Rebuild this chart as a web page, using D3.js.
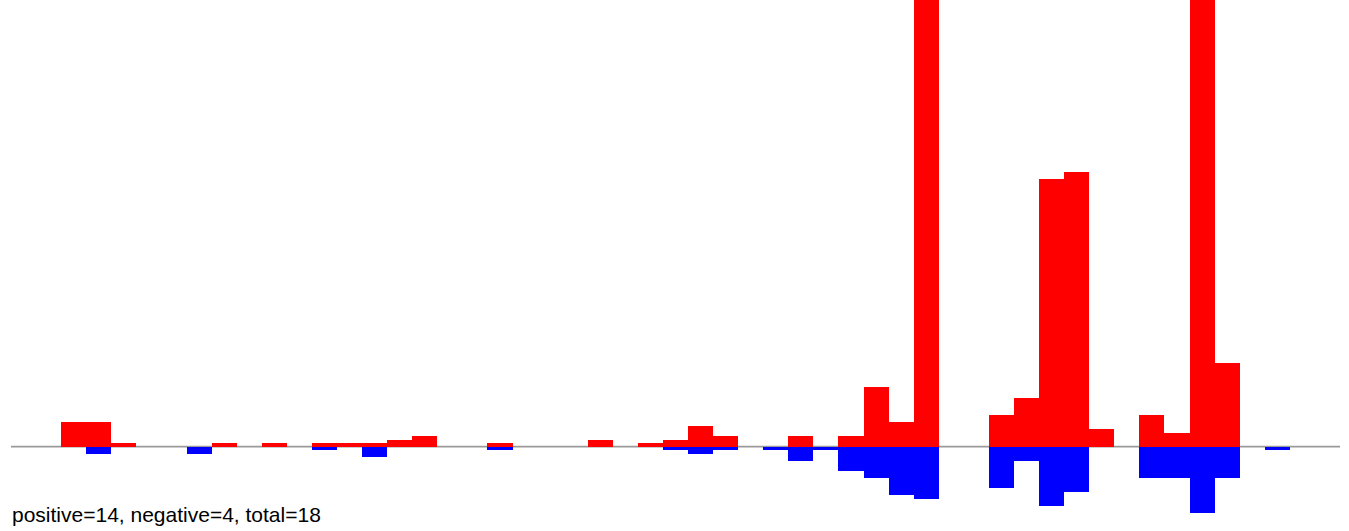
<!DOCTYPE html>
<html>
<head>
<meta charset="utf-8">
<script src="https://cdn.jsdelivr.net/npm/d3@7"></script>
<style>
  html, body { margin: 0; padding: 0; background: #fff; }
  svg { display: block; }
</style>
</head>
<body>
<div id="chart"></div>
<script>
// bins (53 slots)
const bins = d3.range(53);
// positive counts per bin (red, upward)
const positives = [
  0, 0, 7, 7, 1, 0, 0, 0, 1, 0,
  1, 0, 1, 1, 1, 2, 3, 0, 0, 1,
  0, 0, 0, 2, 0, 1, 2, 6, 3, 0,
  0, 3, 0, 3, 17, 7, 200, 0, 0, 9,
  14, 77, 79, 5, 0, 9, 4, 200, 24, 0,
  0, 0, 0
];
// negative counts per bin (blue, downward)
const negatives = [
  0, 0, 0, 2, 0, 0, 0, 2, 0, 0,
  0, 0, 1, 0, 3, 0, 0, 0, 0, 1,
  0, 0, 0, 0, 0, 0, 1, 2, 1, 0,
  1, 4, 1, 7, 9, 14, 15, 0, 0, 12,
  4, 17, 13, 0, 0, 9, 9, 19, 9, 0,
  1, 0, 0
];
const summary = "positive=14, negative=4, total=18";

const W = 1349, H = 531;
const svg = d3.select("#chart").append("svg")
  .attr("width", W).attr("height", H);

const x = d3.scaleBand().domain(bins).range([11, 1340]).padding(0);
const y = d3.scaleLinear().domain([0, 1]).range([446.6, 446.6 - 3.48]);

// baseline
svg.append("line")
  .attr("x1", x.range()[0]).attr("x2", x.range()[1])
  .attr("y1", y(0)).attr("y2", y(0))
  .attr("stroke", "#9a9a9a").attr("stroke-width", 1.6);

svg.append("g").selectAll("rect")
  .data(bins.filter(i => positives[i] > 0))
  .join("rect")
  .attr("x", i => x(i))
  .attr("width", x.bandwidth())
  .attr("y", i => y(positives[i]))
  .attr("height", i => y(0) - y(positives[i]))
  .attr("fill", "#ff0000")
  .attr("shape-rendering", "crispEdges");

svg.append("g").selectAll("rect")
  .data(bins.filter(i => negatives[i] > 0))
  .join("rect")
  .attr("x", i => x(i))
  .attr("width", x.bandwidth())
  .attr("y", y(0))
  .attr("height", i => y(0) - y(negatives[i]))
  .attr("fill", "#0000ff")
  .attr("shape-rendering", "crispEdges");

svg.append("text")
  .attr("x", 12).attr("y", 522)
  .attr("font-family", "'Liberation Sans', Arial, sans-serif")
  .attr("font-size", 21)
  .attr("fill", "#000")
  .text(summary);
</script>
</body>
</html>
